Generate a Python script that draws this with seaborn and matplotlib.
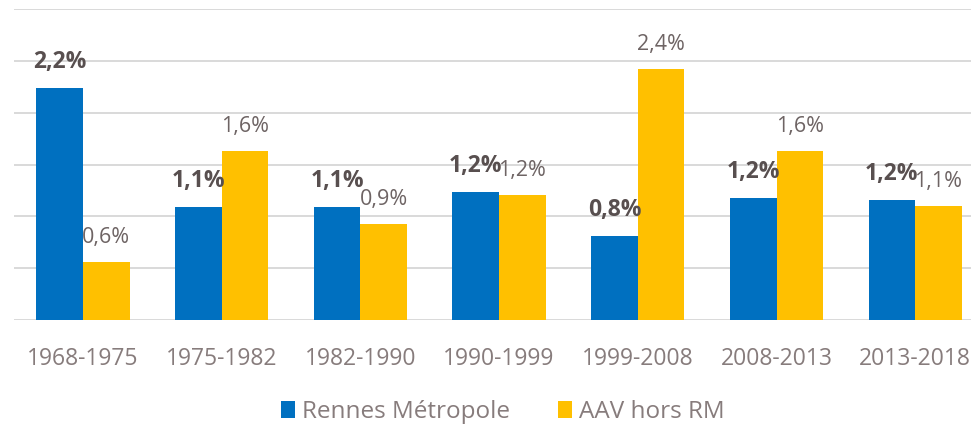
import pandas as pd
import matplotlib
matplotlib.use("Agg")
import matplotlib.pyplot as plt
import seaborn as sns
from matplotlib.patches import Patch

# data (% per year)
periods = ["1968-1975", "1975-1982", "1982-1990", "1990-1999",
           "1999-2008", "2008-2013", "2013-2018"]
rennes_metropole = [2.24, 1.09, 1.09, 1.24, 0.81, 1.18, 1.16]
aav_hors_rm = [0.56, 1.63, 0.93, 1.21, 2.42, 1.63, 1.10]
series = ["Rennes Métropole", "AAV hors RM"]
colors = ["#0070C0", "#FFC000"]

df = pd.DataFrame({
    "periode": periods * 2,
    "taux": rennes_metropole + aav_hors_rm,
    "zone": [series[0]] * len(periods) + [series[1]] * len(periods),
})

sns.set_style("white")
plt.rcParams["font.family"] = ["Open Sans", "DejaVu Sans"]

fig = plt.figure(figsize=(9.71, 4.25), dpi=100)
ax = fig.add_axes([0.01406, 0.2471, 0.9999, 0.7311])

sns.barplot(data=df, x="periode", y="taux", hue="zone", palette=colors,
            width=0.673, saturation=1, linewidth=0, ax=ax, legend=False, zorder=3)

ax.set_xlim(-0.5, 6.5)
ax.set_ylim(0, 3.0)
ax.set_yticks([0, 0.5, 1.0, 1.5, 2.0, 2.5, 3.0])
ax.yaxis.grid(True, color="#d9d9d9", linewidth=1.4, zorder=0)
ax.set_axisbelow(True)
for s in ax.spines.values():
    s.set_visible(False)
ax.tick_params(axis="y", left=False, labelleft=False)
ax.tick_params(axis="x", bottom=False, pad=16, labelsize=16.5, labelcolor="#877c7c")
ax.set_xlabel("")
ax.set_ylabel("")

def fmt(v):
    return f"{v:.1f}".replace(".", ",") + "%"

ax.bar_label(ax.containers[0], labels=[fmt(v) for v in rennes_metropole],
             padding=10, fontsize=16.5, fontweight="bold", color="#584f4f")
ax.bar_label(ax.containers[1], labels=[fmt(v) for v in aav_hors_rm],
             padding=10, fontsize=15.5, color="#6e6464")

handles = [Patch(facecolor=c, edgecolor="none") for c in colors]
fig.legend(handles, series, loc="center", bbox_to_anchor=(0.518, 1 - 412 / 425),
           ncol=2, frameon=False, fontsize=17.5, labelcolor="#877c7c",
           handlelength=0.55, handleheight=0.75, handletextpad=0.3, columnspacing=2.0)

fig.savefig("out.png", dpi=100)
